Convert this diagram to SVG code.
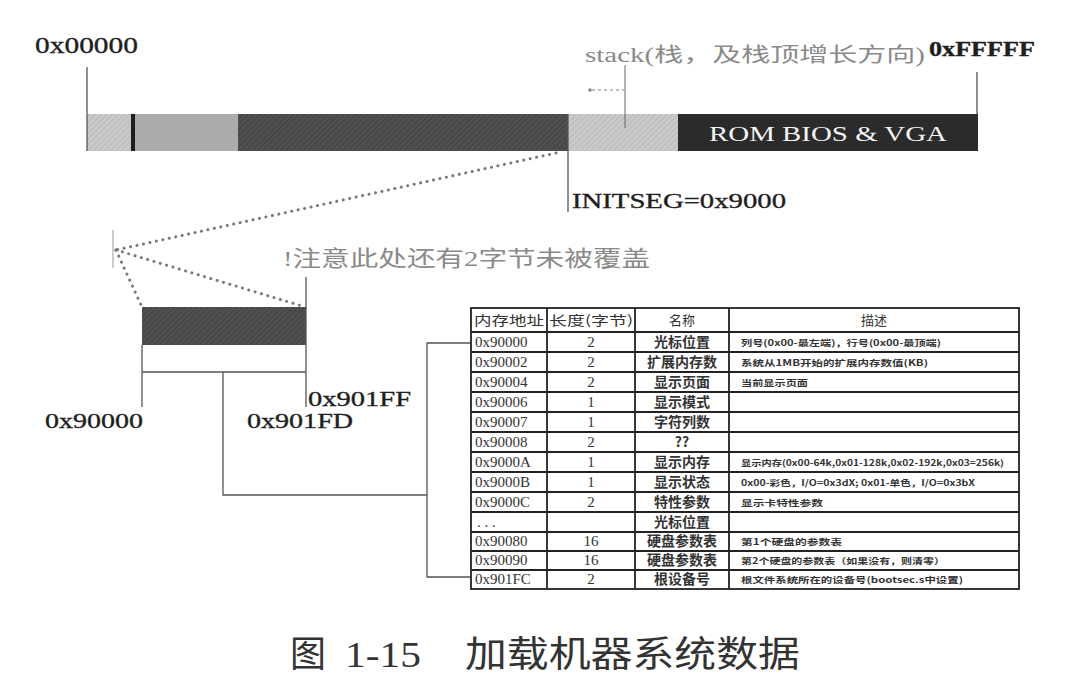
<svg xmlns="http://www.w3.org/2000/svg" width="1076" height="684" viewBox="0 0 1076 684">
<defs>
<pattern id="hatchL" width="4" height="4" patternUnits="userSpaceOnUse" patternTransform="rotate(45)">
<rect width="4" height="4" fill="#c9c9c9"/><line x1="0" y1="0" x2="0" y2="4" stroke="#b5b5b5" stroke-width="1.5"/>
</pattern>
<pattern id="hatchD" width="4" height="4" patternUnits="userSpaceOnUse" patternTransform="rotate(45)">
<rect width="4" height="4" fill="#4f4f4f"/><line x1="0" y1="0" x2="0" y2="4" stroke="#3d3d3d" stroke-width="1.5"/>
</pattern>
</defs>
<style>
.lbl{font-family:"Liberation Serif","Noto Sans CJK SC",serif;fill:#1e1e1e;stroke:#1e1e1e;stroke-width:0.35;}
.gray{font-family:"Liberation Serif","Noto Sans CJK SC",serif;fill:#8a8a8a;}
.ln{stroke:#555;stroke-width:1.3;fill:none;}
.dot{stroke:#7a7a7a;stroke-width:3;stroke-linecap:round;stroke-dasharray:0.1 6.5;fill:none;}
.tb{stroke:#222;stroke-width:1.8;fill:none;}
.c1{font-family:"Liberation Serif",serif;font-size:15px;fill:#333;}
.c2{font-family:"Liberation Serif",serif;font-size:15px;fill:#333;text-anchor:middle;}
.c3{font-family:"Noto Sans CJK SC",sans-serif;font-size:14px;fill:#333;text-anchor:middle;font-weight:bold;}
.c4{font-family:"Noto Sans CJK SC",sans-serif;font-size:8.5px;fill:#333;font-weight:bold;}
.hd{font-family:"Noto Sans CJK SC",sans-serif;font-size:13px;fill:#333;}
.cap{font-family:"Liberation Serif","Noto Sans CJK SC",serif;font-size:36px;fill:#333;}
</style>
<rect width="1076" height="684" fill="#fff"/>

<g id="memory-bar">
<rect x="87" y="114" width="46" height="37" fill="url(#hatchL)"/>
<rect x="131" y="114" width="4" height="37" fill="#1e1e1e"/>
<rect x="135" y="114" width="103" height="37" fill="#ababab"/>
<rect x="238" y="114" width="330" height="37" fill="url(#hatchD)"/>
<rect x="568" y="114" width="110" height="37" fill="url(#hatchL)"/>
<rect x="678" y="114" width="300" height="37" fill="#2b2b2b"/>
<text x="828" y="141" font-family="Liberation Serif, serif" font-size="22" fill="#f4f4f4" text-anchor="middle" textLength="238" lengthAdjust="spacingAndGlyphs">ROM BIOS &amp; VGA</text>
</g>

<g id="label-start">
<line x1="87" y1="67" x2="87" y2="151" class="ln"/>
<text x="35" y="53" class="lbl" font-size="24" textLength="103" lengthAdjust="spacingAndGlyphs">0x00000</text>
</g>
<g id="label-end">
<line x1="977" y1="72" x2="977" y2="114" class="ln"/>
<text x="929" y="56" class="lbl" font-size="22" font-weight="bold" textLength="106" lengthAdjust="spacingAndGlyphs">0xFFFFF</text>
</g>
<g id="label-stack">
<line x1="625" y1="65" x2="625" y2="128" stroke="#666" stroke-width="1"/>
<line x1="592" y1="90" x2="624" y2="90" stroke="#888" stroke-width="1.2" stroke-dasharray="3 3"/>
<circle cx="590" cy="90" r="1.8" fill="#888"/>
<text x="585" y="62" class="gray" font-size="20" textLength="340" lengthAdjust="spacingAndGlyphs">stack(栈，及栈顶增长方向)</text>
</g>
<g id="label-initseg">
<line x1="568" y1="114" x2="568" y2="212" class="ln"/>
<text x="572" y="208" class="lbl" font-size="22" textLength="214" lengthAdjust="spacingAndGlyphs">INITSEG=0x9000</text>
</g>

<g id="note">
<line x1="113" y1="230" x2="113" y2="268" stroke="#999" stroke-width="1"/>
<text x="283" y="266" class="gray" font-size="22" textLength="367" lengthAdjust="spacingAndGlyphs">!注意此处还有2字节未被覆盖</text>
</g>

<g id="small-bar">
<rect x="142" y="307" width="164" height="38" fill="url(#hatchD)"/>
<rect x="142" y="345" width="164" height="27" fill="#fff"/>
<line x1="142" y1="345" x2="142" y2="407" class="ln"/>
<line x1="306" y1="277" x2="306" y2="407" class="ln"/>
<line x1="142" y1="372" x2="306" y2="372" class="ln"/>
<text x="308" y="406" class="lbl" font-size="22" textLength="103" lengthAdjust="spacingAndGlyphs">0x901FF</text>
<text x="247" y="428" class="lbl" font-size="22" textLength="106" lengthAdjust="spacingAndGlyphs">0x901FD</text>
<text x="45" y="428" class="lbl" font-size="22" textLength="98" lengthAdjust="spacingAndGlyphs">0x90000</text>
</g>

<g id="connectors">
<line x1="556" y1="153" x2="116" y2="250" class="dot"/>
<line x1="116" y1="250" x2="302" y2="306" class="dot"/>
<line x1="116" y1="250" x2="141" y2="305" class="dot"/>
<polyline points="223,372 223,495 427,495" class="ln"/>
<polyline points="471,343 427,343 427,577 471,577" class="ln"/>
</g>

<g id="table">
<rect x="471" y="308" width="548" height="281" class="tb" stroke-width="2.2"/>
<line x1="547" y1="308" x2="547" y2="589" class="tb"/>
<line x1="635" y1="308" x2="635" y2="589" class="tb"/>
<line x1="729" y1="308" x2="729" y2="589" class="tb"/>
<g class="tb">
<line x1="471" y1="332" x2="1019" y2="332"/>
<line x1="471" y1="352" x2="1019" y2="352"/>
<line x1="471" y1="372" x2="1019" y2="372"/>
<line x1="471" y1="392" x2="1019" y2="392"/>
<line x1="471" y1="412" x2="1019" y2="412"/>
<line x1="471" y1="432" x2="1019" y2="432"/>
<line x1="471" y1="452" x2="1019" y2="452"/>
<line x1="471" y1="472" x2="1019" y2="472"/>
<line x1="471" y1="492" x2="1019" y2="492"/>
<line x1="471" y1="512" x2="1019" y2="512"/>
<line x1="471" y1="532" x2="1019" y2="532"/>
<line x1="471" y1="551" x2="1019" y2="551"/>
<line x1="471" y1="570" x2="1019" y2="570"/>
</g>
<text x="474" y="325" class="hd" textLength="70" lengthAdjust="spacingAndGlyphs">内存地址</text>
<text x="549" y="325" class="hd" textLength="84" lengthAdjust="spacingAndGlyphs">长度(字节)</text>
<text x="682" y="325" class="hd" text-anchor="middle">名称</text>
<text x="874" y="325" class="hd" text-anchor="middle">描述</text>

<text x="475" y="347" class="c1">0x90000</text>
<text x="475" y="367" class="c1">0x90002</text>
<text x="475" y="387" class="c1">0x90004</text>
<text x="475" y="407" class="c1">0x90006</text>
<text x="475" y="427" class="c1">0x90007</text>
<text x="475" y="447" class="c1">0x90008</text>
<text x="475" y="467" class="c1">0x9000A</text>
<text x="475" y="487" class="c1">0x9000B</text>
<text x="475" y="507" class="c1">0x9000C</text>
<text x="477" y="527" class="c1">. . .</text>
<text x="475" y="546" class="c1">0x90080</text>
<text x="475" y="565" class="c1">0x90090</text>
<text x="475" y="584" class="c1">0x901FC</text>

<text x="591" y="347" class="c2">2</text>
<text x="591" y="367" class="c2">2</text>
<text x="591" y="387" class="c2">2</text>
<text x="591" y="407" class="c2">1</text>
<text x="591" y="427" class="c2">1</text>
<text x="591" y="447" class="c2">2</text>
<text x="591" y="467" class="c2">1</text>
<text x="591" y="487" class="c2">1</text>
<text x="591" y="507" class="c2">2</text>
<text x="591" y="546" class="c2">16</text>
<text x="591" y="565" class="c2">16</text>
<text x="591" y="584" class="c2">2</text>

<text x="682" y="347" class="c3">光标位置</text>
<text x="682" y="367" class="c3">扩展内存数</text>
<text x="682" y="387" class="c3">显示页面</text>
<text x="682" y="407" class="c3">显示模式</text>
<text x="682" y="427" class="c3">字符列数</text>
<text x="682" y="447" class="c3">??</text>
<text x="682" y="467" class="c3">显示内存</text>
<text x="682" y="487" class="c3">显示状态</text>
<text x="682" y="507" class="c3">特性参数</text>
<text x="682" y="527" class="c3">光标位置</text>
<text x="682" y="546" class="c3">硬盘参数表</text>
<text x="682" y="565" class="c3">硬盘参数表</text>
<text x="682" y="584" class="c3">根设备号</text>

<text x="741" y="346" class="c4" textLength="200" lengthAdjust="spacingAndGlyphs">列号(0x00-最左端)，行号(0x00-最顶端)</text>
<text x="741" y="366" class="c4" textLength="187" lengthAdjust="spacingAndGlyphs">系统从1MB开始的扩展内存数值(KB)</text>
<text x="741" y="386" class="c4" textLength="67" lengthAdjust="spacingAndGlyphs">当前显示页面</text>
<text x="741" y="466" class="c4" textLength="263" lengthAdjust="spacingAndGlyphs">显示内存(0x00-64k,0x01-128k,0x02-192k,0x03=256k)</text>
<text x="741" y="486" class="c4" textLength="234" lengthAdjust="spacingAndGlyphs">0x00-彩色，I/O=0x3dX; 0x01-单色，I/O=0x3bX</text>
<text x="741" y="506" class="c4" textLength="82" lengthAdjust="spacingAndGlyphs">显示卡特性参数</text>
<text x="741" y="545" class="c4" textLength="101" lengthAdjust="spacingAndGlyphs">第1个硬盘的参数表</text>
<text x="741" y="564" class="c4" textLength="204" lengthAdjust="spacingAndGlyphs">第2个硬盘的参数表（如果没有，则清零）</text>
<text x="741" y="583" class="c4" textLength="222" lengthAdjust="spacingAndGlyphs">根文件系统所在的设备号(bootsec.s中设置)</text>
</g>

<g id="caption">
<text x="290" y="667" class="cap">图</text>
<text x="345" y="667" class="cap" textLength="76" lengthAdjust="spacingAndGlyphs">1-15</text>
<text x="465" y="667" class="cap" textLength="335" lengthAdjust="spacingAndGlyphs">加载机器系统数据</text>
</g>
</svg>
